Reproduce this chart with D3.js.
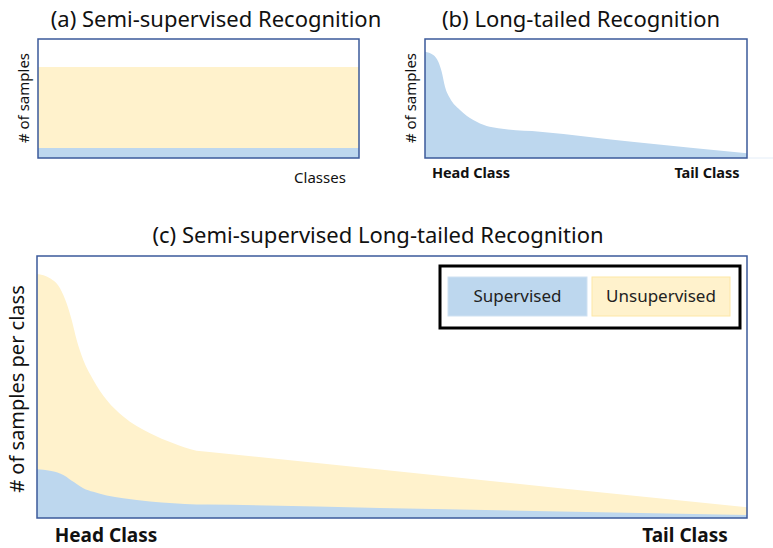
<!DOCTYPE html>
<html>
<head>
<meta charset="utf-8">
<script src="https://cdn.jsdelivr.net/npm/d3@7"></script>
<style>
  html, body { margin: 0; padding: 0; background: #fff; }
  svg { display: block; font-family: "Noto Sans", "Open Sans", sans-serif; }
</style>
</head>
<body>
<svg id="chart" width="773" height="548"></svg>
<script>
// ---------- DATA ----------
// (a) Semi-supervised: flat distribution (class position 0..1, relative # samples)
const classPosA = [0, 1];
const supervisedA = [8.4, 8.4];
const totalA = [76.5, 76.5];

// (b) Long-tailed: supervised only
const classPosB = [0, 0.0258, 0.0413, 0.0518, 0.0621, 0.0776, 0.1087, 0.150, 0.1916, 0.2276, 0.357, 0.65, 1.0];
const longTailB = [89.3, 86.6, 80.9, 72.5, 59.9, 50.2, 40.3, 31.9, 26.9, 25.0, 22.1, 13.4, 3.9];

// (c) Semi-supervised long-tailed: supervised + unsupervised (total)
const classPosC   = [0, 0.0183, 0.0324, 0.0418, 0.0489, 0.0559, 0.0652, 0.0793, 0.0982, 0.1215, 0.1592, 0.192, 0.2246, 0.2394, 0.483, 0.737, 1.0];
const totalC      = [93.1, 91.5, 87.7, 81.9, 75.6, 67.9, 60.3, 52.7, 45.0, 38.7, 32.3, 28.5, 25.7, 25.3, 18.5, 11.4, 4.1];
const supervisedC = [18.6, 18.05, 17.0, 15.65, 14.2, 13.0, 11.4, 10.0, 8.6, 7.5, 6.3, 5.6, 5.2, 5.15, 3.85, 2.5, 1.15];

const legendLabels = ["Supervised", "Unsupervised"];
const titles = ["(a) Semi-supervised Recognition", "(b) Long-tailed Recognition", "(c) Semi-supervised Long-tailed Recognition"];

// ---------- STYLE ----------
const BLUE = "#bdd7ee";
const YELLOW = "#fff2cc";
const FRAME = "#3b5a9a";

const svg = d3.select("#chart");

function makeScales(x0, x1, y0, y1) {
  return {
    x: d3.scaleLinear().domain([0, 1]).range([x0, x1]),
    y: d3.scaleLinear().domain([0, 100]).range([y1, y0])
  };
}

function drawArea(g, s, xs, ys, color) {
  const pts = xs.map((x, i) => [x, ys[i]]);
  const area = d3.area()
    .x(d => s.x(d[0]))
    .y0(s.y(0))
    .y1(d => s.y(d[1]))
    .curve(d3.curveMonotoneX);
  g.append("path").attr("d", area(pts)).attr("fill", color);
}

function frame(g, x0, x1, y0, y1) {
  g.append("rect")
    .attr("x", x0).attr("y", y0)
    .attr("width", x1 - x0).attr("height", y1 - y0)
    .attr("fill", "none").attr("stroke", FRAME).attr("stroke-width", 1.5);
}

// ---------- PANEL (a) ----------
{
  const x0 = 38, x1 = 359, y0 = 39, y1 = 158;
  const s = makeScales(x0, x1, y0, y1);
  const g = svg.append("g");
  drawArea(g, s, classPosA, totalA, YELLOW);
  drawArea(g, s, classPosA, supervisedA, BLUE);
  frame(g, x0, x1, y0, y1);
  g.append("text").attr("x", 216).attr("y", 27).attr("text-anchor", "middle")
    .attr("font-size", 22).attr("fill", "#111").text(titles[0]);
  g.append("text").attr("transform", "translate(29,98) rotate(-90)")
    .attr("text-anchor", "middle").attr("font-size", 15).attr("fill", "#111").text("# of samples");
  g.append("text").attr("x", 320).attr("y", 183).attr("text-anchor", "middle")
    .attr("font-size", 15).attr("fill", "#111").text("Classes");
}

// ---------- PANEL (b) ----------
{
  const x0 = 425, x1 = 747, y0 = 39, y1 = 158;
  const s = makeScales(x0, x1, y0, y1);
  const g = svg.append("g");
  drawArea(g, s, classPosB, longTailB, BLUE);
  frame(g, x0, x1, y0, y1);
  g.append("line").attr("x1", x1 + 1).attr("x2", 773).attr("y1", y1).attr("y2", y1)
    .attr("stroke", "#e4edf7").attr("stroke-width", 1);
  g.append("text").attr("x", 581).attr("y", 27).attr("text-anchor", "middle")
    .attr("font-size", 22).attr("fill", "#111").text(titles[1]);
  g.append("text").attr("transform", "translate(416,98) rotate(-90)")
    .attr("text-anchor", "middle").attr("font-size", 15).attr("fill", "#111").text("# of samples");
  g.append("text").attr("x", 471).attr("y", 178).attr("text-anchor", "middle")
    .attr("font-size", 14.5).attr("font-weight", "bold").attr("fill", "#111").text("Head Class");
  g.append("text").attr("x", 707).attr("y", 178).attr("text-anchor", "middle")
    .attr("font-size", 14.5).attr("font-weight", "bold").attr("fill", "#111").text("Tail Class");
}

// ---------- PANEL (c) ----------
{
  const x0 = 37, x1 = 747, y0 = 256, y1 = 518;
  const s = makeScales(x0, x1, y0, y1);
  const g = svg.append("g");
  drawArea(g, s, classPosC, totalC, YELLOW);
  drawArea(g, s, classPosC, supervisedC, BLUE);
  frame(g, x0, x1, y0, y1);
  g.append("text").attr("x", 378).attr("y", 243).attr("text-anchor", "middle")
    .attr("font-size", 22).attr("fill", "#111").text(titles[2]);
  g.append("text").attr("transform", "translate(24,389) rotate(-90)")
    .attr("text-anchor", "middle").attr("font-size", 20).attr("fill", "#111").text("# of samples per class");
  g.append("text").attr("x", 106).attr("y", 542).attr("text-anchor", "middle")
    .attr("font-size", 19).attr("font-weight", "bold").attr("fill", "#111").text("Head Class");
  g.append("text").attr("x", 685).attr("y", 542).attr("text-anchor", "middle")
    .attr("font-size", 19).attr("font-weight", "bold").attr("fill", "#111").text("Tail Class");

  // legend
  const lg = g.append("g");
  lg.append("rect").attr("x", 440).attr("y", 266).attr("width", 300).attr("height", 62)
    .attr("fill", "#fff").attr("stroke", "#000").attr("stroke-width", 3);
  const boxes = [
    { x: 448, w: 139, fill: BLUE, stroke: "#cfe1f2" },
    { x: 592, w: 138, fill: YELLOW, stroke: "#fde7a6" }
  ];
  boxes.forEach((b, i) => {
    lg.append("rect").attr("x", b.x).attr("y", 277).attr("width", b.w).attr("height", 39)
      .attr("fill", b.fill).attr("stroke", b.stroke).attr("stroke-width", 1);
    lg.append("text").attr("x", b.x + b.w / 2).attr("y", 302).attr("text-anchor", "middle")
      .attr("font-size", 17).attr("fill", "#222").text(legendLabels[i]);
  });
}
</script>
</body>
</html>
